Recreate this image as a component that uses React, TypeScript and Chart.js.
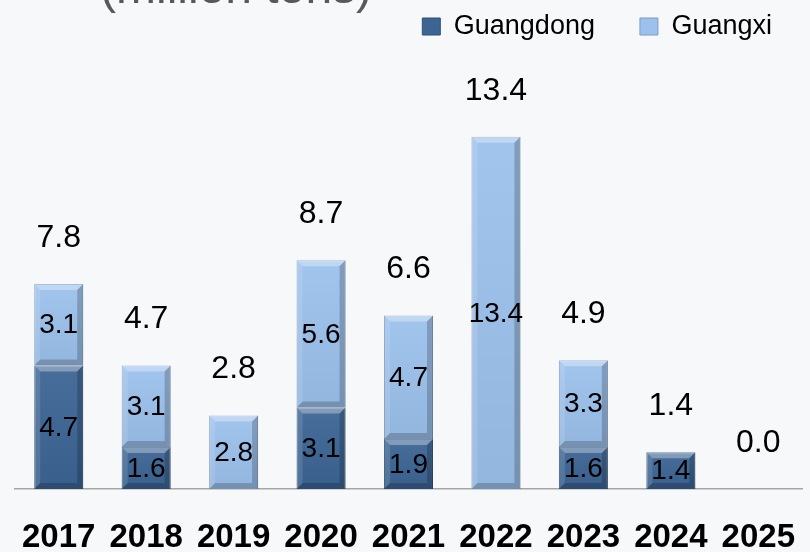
import React, { useEffect, useRef } from "react";
import { Chart, registerables } from "chart.js";

Chart.register(...registerables);

const years = ["2017", "2018", "2019", "2020", "2021", "2022", "2023", "2024", "2025"];
const guangdong = [4.7, 1.6, 0, 3.1, 1.9, 0, 1.6, 1.4, 0];
const guangxi = [3.1, 3.1, 2.8, 5.6, 4.7, 13.4, 3.3, 0, 0];
const totals = [7.8, 4.7, 2.8, 8.7, 6.6, 13.4, 4.9, 1.4, 0.0];
const seriesNames = ["Guangdong", "Guangxi"];
const unitTitle = "(million tons)";

const FONT = "'Liberation Sans', Arial, sans-serif";

function poly(ctx: CanvasRenderingContext2D, pts: number[][], fill: string) {
  ctx.beginPath();
  ctx.moveTo(pts[0][0], pts[0][1]);
  for (let k = 1; k < pts.length; k++) ctx.lineTo(pts[k][0], pts[k][1]);
  ctx.closePath();
  ctx.fillStyle = fill;
  ctx.fill();
}

const bevelAndLabels = {
  id: "bevelAndLabels",
  afterDatasetsDraw(chart: any) {
    const ctx: CanvasRenderingContext2D = chart.ctx;
    ctx.save();
    const segs: any[] = [];
    chart.data.datasets.forEach((ds: any, di: number) => {
      const meta = chart.getDatasetMeta(di);
      meta.data.forEach((el: any, i: number) => {
        const v = ds.data[i];
        if (!v) return;
        const { x, y, base, width } = el.getProps(["x", "y", "base", "width"], true);
        const l = x - width / 2;
        const r = x + width / 2;
        const t = Math.min(y, base);
        const b = Math.max(y, base);
        const h = b - t;
        const bv = Math.min(6, h / 3, width / 4);
        // subtle vertical shading of the face
        const g = ctx.createLinearGradient(0, t, 0, b);
        g.addColorStop(0, "rgba(255,255,255,0.06)");
        g.addColorStop(1, "rgba(0,0,0,0.06)");
        ctx.fillStyle = g;
        ctx.fillRect(l, t, width, h);
        poly(ctx, [[l, t], [r, t], [r - bv, t + bv], [l + bv, t + bv]], "rgba(255,255,255,0.32)");
        poly(ctx, [[l, b], [r, b], [r - bv, b - bv], [l + bv, b - bv]], "rgba(0,0,0,0.2)");
        poly(ctx, [[l, t], [l + bv, t + bv], [l + bv, b - bv], [l, b]], "rgba(255,255,255,0.12)");
        poly(ctx, [[r, t], [r - bv, t + bv], [r - bv, b - bv], [r, b]], "rgba(0,0,0,0.2)");
        segs.push({ x, cy: (t + b) / 2, v });
      });
    });
    ctx.fillStyle = "#000";
    ctx.textAlign = "center";
    ctx.textBaseline = "middle";
    ctx.font = `28px ${FONT}`;
    segs.forEach((s) => ctx.fillText(s.v.toFixed(1), s.x, s.cy + 1));
    const xs = chart.scales.x;
    const ys = chart.scales.y;
    ctx.font = `32px ${FONT}`;
    totals.forEach((tv, i) => {
      const px = xs.getPixelForValue(i);
      const py = ys.getPixelForValue(tv);
      ctx.fillText(tv.toFixed(1), px, py - 46);
    });
    ctx.restore();
  },
  afterDraw(chart: any) {
    const ctx: CanvasRenderingContext2D = chart.ctx;
    ctx.save();
    ctx.fillStyle = "#595959";
    ctx.font = `48px ${FONT}`;
    ctx.textAlign = "left";
    ctx.textBaseline = "alphabetic";
    ctx.fillText(unitTitle, 100, 3);
    ctx.restore();
  },
};

export default function App() {
  const ref = useRef<HTMLCanvasElement | null>(null);
  useEffect(() => {
    document.body.style.margin = "0";
    const canvas = ref.current;
    if (!canvas) return;
    const chart = new Chart(canvas, {
      type: "bar",
      data: {
        labels: years,
        datasets: [
          {
            label: seriesNames[0],
            data: guangdong,
            backgroundColor: "#3c6594",
            borderColor: "#2d4f78",
            borderWidth: 1,
            barPercentage: 0.56,
            categoryPercentage: 1,
          },
          {
            label: seriesNames[1],
            data: guangxi,
            backgroundColor: "#9cc1ec",
            borderColor: "#7b9cc6",
            borderWidth: 1,
            barPercentage: 0.56,
            categoryPercentage: 1,
          },
        ],
      },
      options: {
        animation: false,
        responsive: true,
        maintainAspectRatio: false,
        devicePixelRatio: 1,
        layout: { padding: { left: 15, right: 8, top: -17, bottom: 13 } },
        plugins: {
          legend: {
            position: "top",
            align: "end",
            labels: {
              boxWidth: 18,
              boxHeight: 17,
              padding: 30,
              color: "#000",
              font: { family: FONT, size: 27 },
              generateLabels: (ch: any) => {
                const items = Chart.defaults.plugins.legend.labels.generateLabels(ch);
                items[0].text = items[0].text + "  ";
                return items;
              },
            },
          },
          tooltip: { enabled: false },
          title: { display: false },
        },
        scales: {
          x: {
            stacked: true,
            grid: { display: false, drawTicks: false },
            border: { display: true, color: "#a6a6a6", width: 1.5 },
            ticks: {
              color: "#000",
              padding: 0,
              maxRotation: 0,
              minRotation: 0,
              autoSkip: false,
              font: { family: FONT, size: 33, weight: "bold", lineHeight: 2.97 },
            },
          },
          y: {
            stacked: true,
            display: false,
            min: 0,
            max: 16.7,
          },
        },
      },
      plugins: [bevelAndLabels],
    });
    return () => chart.destroy();
  }, []);
  return (
    <div
      style={{
        position: "fixed",
        left: 0,
        top: 0,
        width: 810,
        height: 552,
        overflow: "hidden",
        background: "#f7f8fa",
      }}
    >
      <div style={{ position: "relative", width: 810, height: 600 }}>
        <canvas ref={ref} />
      </div>
    </div>
  );
}
